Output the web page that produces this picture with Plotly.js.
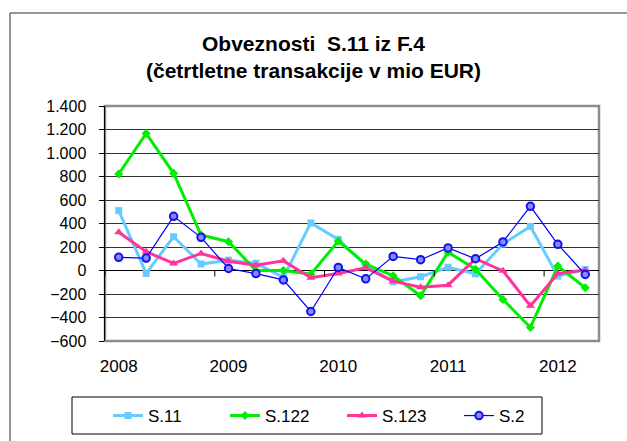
<!DOCTYPE html>
<html>
<head>
<meta charset="utf-8">
<script src="https://cdn.plot.ly/plotly-3.0.1.min.js"></script>
<style>html,body{margin:0;padding:0;background:#fff;}#chart{width:627px;height:441px;}</style>
</head>
<body>
<div id="chart"></div>
<script>
const quarters = ['2008Q1','2008Q2','2008Q3','2008Q4','2009Q1','2009Q2','2009Q3','2009Q4','2010Q1','2010Q2','2010Q3','2010Q4','2011Q1','2011Q2','2011Q3','2011Q4','2012Q1','2012Q2'];
const yearTicks = ['2008Q1','2009Q1','2010Q1','2011Q1','2012Q1'];
const yearLabels = ['2008','2009','2010','2011','2012'];
const s11  = [510, -25, 288, 55, 88, 62, -60, 405, 265, 45, -97, -53, 28, -28, 225, 375, -48, 8];
const s122 = [821, 1167, 827, 302, 245, 0, 0, -31, 250, 55, -45, -215, 156, 11, -247, -485, 38, -147];
const s123 = [325, 160, 60, 145, 79, 45, 82, -62, -26, 23, -91, -142, -125, 100, -3, -301, -26, 5];
const s2   = [112, 106, 461, 282, 17, -26, -80, -349, 26, -71, 120, 92, 192, 100, 243, 546, 223, -34];

const FONT = 'Arial, "Liberation Sans", sans-serif';
const traces = [
  {name:'S.11', x:quarters, y:s11, type:'scatter', mode:'lines+markers',
   line:{color:'#66CCFF', width:3}, marker:{symbol:'square', size:7, color:'#66CCFF'}},
  {name:'S.122', x:quarters, y:s122, type:'scatter', mode:'lines+markers',
   line:{color:'#00EE00', width:3}, marker:{symbol:'diamond', size:7, color:'#00EE00'}},
  {name:'S.123', x:quarters, y:s123, type:'scatter', mode:'lines+markers',
   line:{color:'#FF3399', width:3}, marker:{symbol:'triangle-up', size:8, color:'#FF3399'}},
  {name:'S.2', x:quarters, y:s2, type:'scatter', mode:'lines+markers',
   line:{color:'#0000FF', width:1.2}, marker:{symbol:'circle', size:7.5, color:'#8888FF', line:{color:'#1111EE', width:2}}}
];

const L=105, R=599, T=106, B=341;
const px = v => (v-L)/(R-L);
const py = v => (B-v)/(B-T);

// small x-axis tick marks on the zero line, at year boundaries
const yUnitsPerPx = 2000/(B-T);
const tickShapes = yearTicks.map(q => {
  const xi = quarters.indexOf(q) - 0.5;
  return {type:'line', xref:'x', yref:'y', x0:xi, x1:xi, y0:0, y1:-6*yUnitsPerPx,
          line:{color:'#000', width:1}};
});

const layout = {
  width:627, height:441,
  margin:{l:L, r:627-R, t:T, b:441-B, pad:0, autoexpand:false},
  paper_bgcolor:'#fff', plot_bgcolor:'#fff',
  separators:',.',
  font:{family:FONT, size:16, color:'#000'},
  title:{text:'<b>Obveznosti&nbsp; S.11 iz F.4<br>(četrtletne transakcije v mio EUR)</b>',
         font:{family:FONT, size:21, color:'#000'}, x:0.5, xref:'container', xanchor:'center',
         y:1-51/441, yref:'container', yanchor:'top'},
  showlegend:true,
  legend:{orientation:'h', x:px(108), xanchor:'left', y:py(416), yanchor:'middle',
          borderwidth:0, bgcolor:'rgba(0,0,0,0)',
          font:{family:FONT, size:17, color:'#000'}, entrywidth:72, entrywidthmode:'pixels'},
  xaxis:{type:'category', categoryorder:'array', categoryarray:quarters, range:[-0.5,17.5],
         tickvals:yearTicks, ticktext:yearLabels, showgrid:false, zeroline:false,
         showline:false, ticks:'', tickfont:{family:FONT, size:17, color:'#000'}, ticklabelstandoff:13},
  yaxis:{range:[-600,1400], dtick:200, tick0:0, tickformat:',d', showgrid:true, gridcolor:'#333', gridwidth:1,
         zeroline:true, zerolinecolor:'#000', zerolinewidth:1,
         showline:true, linecolor:'#000', linewidth:1.5, ticks:'outside', ticklen:5, tickcolor:'#000',
         tickfont:{family:FONT, size:16, color:'#000'}, ticklabelstandoff:9},
  shapes:[
    {type:'rect', xref:'paper', yref:'paper', x0:0, x1:1, y0:0, y1:1, layer:'below',
     line:{color:'#8C8C8C', width:2.5}},
    {type:'path', xref:'paper', yref:'paper', layer:'below',
     path:'M '+px(10)+' '+py(460)+' L '+px(10)+' '+py(13)+' L '+px(640)+' '+py(13),
     line:{color:'#333', width:1}},
    {type:'rect', xref:'paper', yref:'paper', layer:'below',
     x0:px(72), x1:px(542), y0:py(434), y1:py(397), line:{color:'#000', width:1}, fillcolor:'#fff'}
  ].concat(tickShapes)
};

Plotly.newPlot('chart', traces, layout, {displayModeBar:false, staticPlot:true});
</script>
</body>
</html>
